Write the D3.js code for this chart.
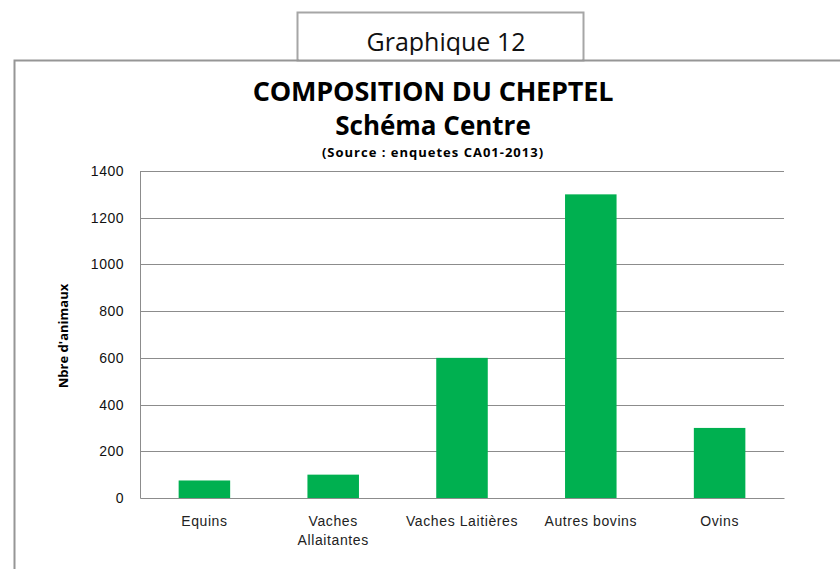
<!DOCTYPE html>
<html>
<head>
<meta charset="utf-8">
<script src="https://cdn.jsdelivr.net/npm/d3@7"></script>
<style>
  body { margin: 0; background: #fff; }
  svg { display: block; font-family: "Open Sans", "Liberation Sans", sans-serif; }
</style>
</head>
<body>
<div id="chart"></div>
<script>
// Chart data
const categories = ["Equins", "Vaches Allaitantes", "Vaches Laitières", "Autres bovins", "Ovins"];
const values = [75, 100, 600, 1300, 300];
const yTicks = [0, 200, 400, 600, 800, 1000, 1200, 1400];

const width = 840, height = 569;
const margin = { top: 171, right: 56, bottom: 71, left: 140 };

const svg = d3.select("#chart").append("svg")
    .attr("width", width)
    .attr("height", height);

// Caption box, then outer frame (left + top) drawn over its bottom edge
svg.append("rect")
    .attr("x", 297.5).attr("y", 12.5)
    .attr("width", 286).attr("height", 48)
    .attr("fill", "#fff")
    .attr("stroke", "#a6a6a6")
    .attr("stroke-width", 2);

svg.append("text")
    .attr("x", 446).attr("y", 51)
    .attr("text-anchor", "middle")
    .style("font-size", "25px")
    .style("fill", "#111")
    .text("Graphique 12");

// clip the descenders like the original (white band below the box)
svg.append("rect")
    .attr("x", 299).attr("y", 55)
    .attr("width", 283).attr("height", 5)
    .attr("fill", "#fff");

svg.append("path")
    .attr("d", `M14.5,${height} V60.5 H${width}`)
    .attr("fill", "none")
    .attr("stroke", "#969696")
    .attr("stroke-width", 2);

// Titles
const titleX = 433;
svg.append("text")
    .attr("x", titleX).attr("y", 101)
    .attr("text-anchor", "middle")
    .style("font-size", "27px").style("font-weight", "bold")
    .style("letter-spacing", "-0.2px")
    .text("COMPOSITION DU CHEPTEL");

svg.append("text")
    .attr("x", titleX).attr("y", 135)
    .attr("text-anchor", "middle")
    .style("font-size", "26px").style("font-weight", "bold")
    .text("Schéma Centre");

svg.append("text")
    .attr("x", titleX).attr("y", 157)
    .attr("text-anchor", "middle")
    .style("font-size", "13px").style("font-weight", "bold")
    .style("letter-spacing", "1px")
    .text("(Source : enquetes CA01-2013)");

// Scales
const x = d3.scaleBand()
    .domain(categories)
    .range([margin.left, width - margin.right])
    .paddingInner(0.6)
    .paddingOuter(0.3);

const y = d3.scaleLinear()
    .domain([0, 1400])
    .range([height - margin.bottom, margin.top]);

// Gridlines
svg.append("g")
    .selectAll("line")
    .data(yTicks.filter(d => d > 0))
    .enter()
    .append("line")
    .attr("x1", margin.left).attr("x2", width - margin.right)
    .attr("y1", d => Math.round(y(d)) + 0.5)
    .attr("y2", d => Math.round(y(d)) + 0.5)
    .attr("stroke", "#8c8c8c")
    .attr("stroke-width", 1);

// Bars
svg.append("g")
    .selectAll("rect")
    .data(values)
    .enter()
    .append("rect")
    .attr("x", (d, i) => x(categories[i]))
    .attr("y", d => y(d))
    .attr("width", x.bandwidth())
    .attr("height", d => y(0) - y(d))
    .attr("fill", "#00b050");

// Y axis
const yAxis = svg.append("g")
    .attr("transform", `translate(${margin.left},0)`)
    .call(d3.axisLeft(y).tickValues(yTicks).tickFormat(d3.format("d")).tickSize(0).tickPadding(16));
yAxis.select(".domain").attr("stroke", "#8c8c8c");
yAxis.selectAll("text")
    .style("font-size", "14px")
    .style("letter-spacing", "0.5px")
    .style("fill", "#111");

// X axis
const xAxis = svg.append("g")
    .attr("transform", `translate(0,${height - margin.bottom})`)
    .call(d3.axisBottom(x).tickSize(0).tickPadding(18));
xAxis.select(".domain").attr("stroke", "#8c8c8c");
xAxis.selectAll("text")
    .style("font-size", "14px")
    .style("letter-spacing", "0.6px")
    .style("fill", "#222")
    .each(function (d) {
        // wrap "Vaches Allaitantes" onto two lines like the original
        if (d === "Vaches Allaitantes") {
            const t = d3.select(this);
            t.text("");
            t.append("tspan").attr("x", 0).attr("dy", "0.71em").text("Vaches");
            t.append("tspan").attr("x", 0).attr("dy", "1.35em").text("Allaitantes");
            t.attr("dy", null);
        }
    });

// Y axis title
svg.append("text")
    .attr("transform", `translate(68,${336}) rotate(-90)`)
    .attr("text-anchor", "middle")
    .style("font-size", "13px").style("font-weight", "bold")
    .text("Nbre d'animaux");
</script>
</body>
</html>
